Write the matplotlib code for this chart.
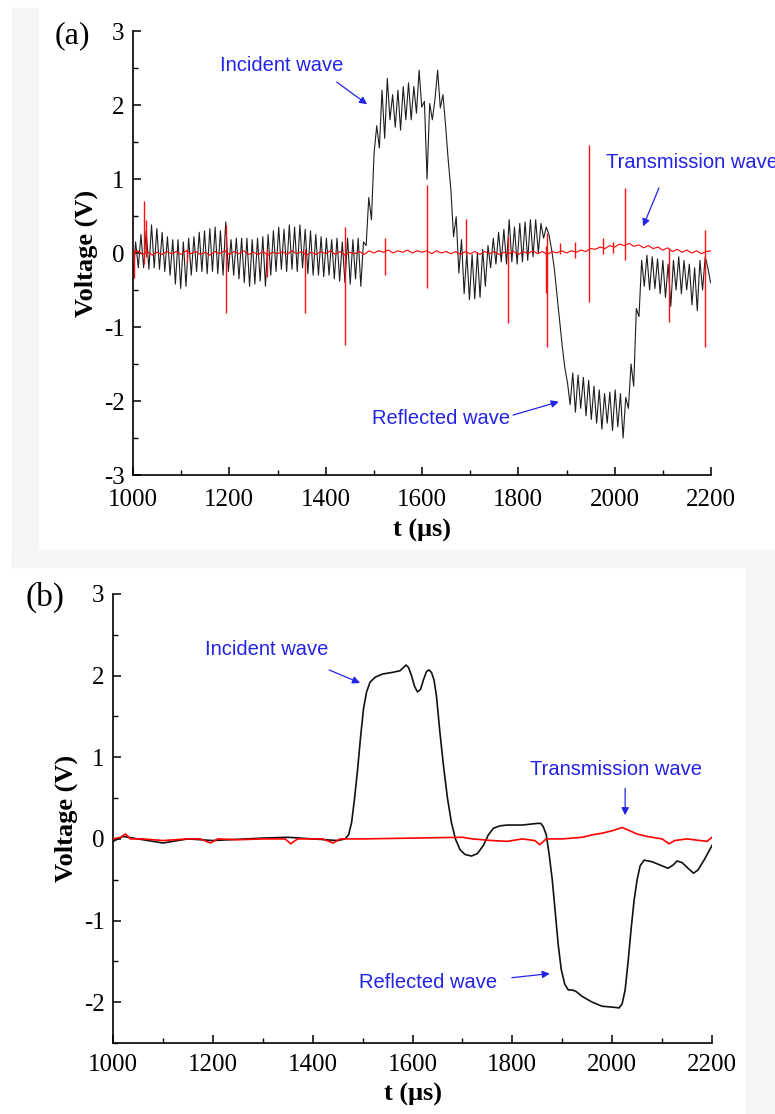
import numpy as np
import matplotlib
matplotlib.use('Agg')
import matplotlib.pyplot as plt
from matplotlib.patches import Rectangle
from matplotlib.ticker import MultipleLocator

# ---------------- panel (a): raw signals ----------------
# black trace, one value every 5.5 us starting at 1000 us
t0_a = 1000.0
dt_a = 5.5
black_a = [
    # 1000 - 1104.5
    -0.35, 0.15, -0.2, 0.25, -0.2, 0.3, -0.22, 0.38, -0.2, 0.33,
    -0.22, 0.28, -0.25, 0.22, -0.3, 0.18, -0.42, 0.18, -0.48, 0.15,
    # 1110 - 1214.5
    -0.45, 0.2, -0.3, 0.22, -0.25, 0.28, -0.25, 0.3, -0.28, 0.33,
    -0.25, 0.35, -0.28, 0.3, -0.3, 0.42, -0.25, 0.18, -0.3, 0.2,
    # 1220 - 1324.5
    -0.35, 0.2, -0.4, 0.2, -0.45, 0.18, -0.42, 0.2, -0.38, 0.22,
    -0.45, 0.25, -0.3, 0.3, -0.25, 0.35, -0.22, 0.32, -0.25, 0.38,
    # 1330 - 1434.5
    -0.22, 0.35, -0.25, 0.38, -0.2, 0.32, -0.28, 0.3, -0.3, 0.25,
    -0.3, 0.22, -0.32, 0.2, -0.3, 0.18, -0.35, 0.2, -0.38, 0.15,
    # 1440 - 1544.5
    -0.4, 0.2, -0.42, 0.18, -0.35, 0.2, -0.45, 0.15, 0.1, 0.75,
    0.45, 1.35, 1.72, 1.42, 2.2, 1.55, 2.36, 1.8, 2.14, 1.7,
    # 1550 - 1654.5
    2.2, 1.66, 2.25, 1.8, 2.3, 1.8, 2.25, 1.89, 2.47, 1.97,
    2.05, 1.0, 2.02, 1.8, 2.08, 2.47, 1.96, 2.14, 1.72, 1.25,
    # 1660 - 1764.5
    0.85, 0.22, 0.49, -0.27, 0.18, -0.55, 0.0, -0.63, -0.02, -0.62,
    0.0, -0.6, 0.05, -0.45, 0.1, -0.2, 0.2, -0.15, 0.28, -0.12,
    # 1770 - 1874.5
    0.32, -0.15, 0.45, -0.12, 0.35, -0.15, 0.4, -0.12, 0.42, -0.1,
    0.45, -0.05, 0.45, 0.0, 0.4, 0.2, 0.35, 0.25, 0.05, -0.2,
    # 1880 - 1984.5
    -0.55, -0.9, -1.25, -1.55, -1.75, -2.05, -1.62, -2.15, -1.65, -2.1,
    -1.68, -2.2, -1.72, -2.25, -1.8, -2.3, -1.85, -2.38, -1.9, -2.3,
    # 1990 - 2094.5
    -1.88, -2.4, -1.85, -2.35, -1.9, -2.5, -1.95, -2.1, -1.5, -1.8,
    -0.75, -0.86, -0.1, -0.45, -0.03, -0.5, -0.05, -0.48, -0.08, -0.55,
    # 2100 - 2199
    -0.1, -0.6, -0.15, -0.72, -0.1, -0.5, -0.05, -0.55, -0.1, -0.5,
    -0.15, -0.7, -0.2, -0.78, -0.1, -0.5, -0.05, -0.2, -0.4,
]

# red trace baseline, one value every 10 us
t0_red = 1000.0
dt_red = 10.0
red_base_a = [
    0.0, 0.03, -0.02, 0.02, -0.03, 0.01, -0.02, 0.02, -0.01, 0.02,
    -0.02, 0.03, -0.01, 0.02, -0.02, 0.01, -0.03, 0.02, -0.01, 0.03,
    -0.02, 0.02, -0.01, 0.03, -0.02, 0.01, -0.02, 0.02, -0.03, 0.01,
    -0.01, 0.02, -0.02, 0.03, -0.01, 0.02, -0.03, 0.01, -0.02, 0.02,
    -0.01, 0.03, -0.02, 0.02, -0.03, 0.01, -0.01, 0.02, -0.02, 0.03,
    0.0, 0.03, 0.01, 0.04, 0.0, 0.03, 0.01, 0.04, 0.0, 0.03,
    0.01, 0.03, -0.01, 0.03, 0.0, 0.02, -0.01, 0.02, -0.02, 0.02,
    -0.01, 0.02, -0.02, 0.02, -0.01, 0.02, -0.02, 0.01, -0.01, 0.02,
    -0.02, 0.02, -0.01, 0.03, -0.01, 0.02, -0.02, 0.02, 0.0, 0.03,
    0.0, 0.03, 0.01, 0.04, 0.02, 0.06, 0.05, 0.08, 0.06, 0.1,
    0.08, 0.12, 0.1, 0.13, 0.09, 0.11, 0.07, 0.1, 0.06, 0.08,
    0.04, 0.07, 0.02, 0.05, 0.01, 0.04, 0.0, 0.03, -0.01, 0.02,
    0.03,
]

# red spikes: time, top, bottom
spike_t = [1003, 1023, 1027, 1112, 1193, 1278, 1357, 1440, 1523, 1611, 1691,
           1779, 1857, 1860, 1886, 1917, 1947, 1976, 1996, 2021, 2113, 2188]
spike_hi = [0.05, 0.70, 0.45, 0.05, 0.38, 0.05, 0.05, 0.35, 0.20, 0.92, 0.46,
            0.22, 0.10, 0.27, 0.14, 0.15, 1.46, 0.20, 0.15, 0.88, 0.05, 0.31]
spike_lo = [-0.34, -0.15, -0.05, -0.12, -0.81, -0.32, -0.81, -1.24, -0.30, -0.47, -0.02,
            -0.95, -0.54, -1.27, -0.02, -0.07, -0.66, -0.02, 0.0, -0.10, -0.93, -1.27]

# ---------------- panel (b): filtered signals ----------------
t_black_b = [1000, 1020, 1050, 1100, 1150, 1200, 1300, 1350, 1400, 1450, 1465,
             1472, 1478, 1484, 1490, 1496, 1502, 1508, 1515, 1525, 1540,
             1560, 1575, 1582, 1587, 1592, 1598, 1604, 1610, 1616, 1622,
             1628, 1633, 1638, 1643, 1648, 1655, 1662, 1670, 1678, 1686,
             1695, 1705, 1718, 1730, 1742, 1752, 1762, 1775, 1790, 1820,
             1850, 1857, 1862, 1868, 1874, 1880, 1886, 1892, 1898, 1905,
             1912, 1920, 1928, 1940, 1960, 1980, 2000, 2014, 2020, 2026,
             2032, 2038, 2044, 2050, 2056, 2064, 2080, 2100, 2112, 2122,
             2130, 2140, 2152, 2163, 2172, 2185, 2200]
v_black_b = [-0.03, 0.03, 0.0, -0.05, 0.0, -0.02, 0.01, 0.02, 0.0, -0.02, 0.0,
             0.05, 0.2, 0.5, 0.85, 1.25, 1.6, 1.8, 1.92, 1.98, 2.02,
             2.04, 2.06, 2.1, 2.13, 2.1, 2.0, 1.87, 1.8, 1.83, 1.95,
             2.05, 2.07, 2.04, 1.95, 1.75, 1.3, 0.9, 0.5, 0.2, 0.0,
             -0.13, -0.19, -0.21, -0.18, -0.08, 0.05, 0.13, 0.16, 0.17, 0.17,
             0.19, 0.19, 0.15, 0.05, -0.2, -0.5, -0.9, -1.3, -1.6, -1.78,
             -1.85, -1.85, -1.87, -1.93, -2.0, -2.05, -2.06, -2.07, -2.02, -1.85,
             -1.5, -1.1, -0.75, -0.5, -0.33, -0.26, -0.28, -0.33, -0.36, -0.32,
             -0.27, -0.29, -0.36, -0.42, -0.38, -0.25, -0.08]

t_red_b = [1000, 1015, 1025, 1035, 1060, 1100, 1150, 1175, 1195, 1210, 1250,
           1300, 1345, 1356, 1370, 1420, 1441, 1455, 1500, 1600, 1700,
           1720, 1760, 1790, 1820, 1845, 1855, 1868, 1900, 1940, 1960,
           1980, 2000, 2020, 2035, 2050, 2070, 2100, 2114, 2125, 2150,
           2190, 2200]
v_red_b = [0.0, 0.02, 0.06, 0.0, 0.0, -0.02, 0.0, 0.0, -0.05, 0.0, -0.01,
           0.0, 0.0, -0.06, 0.0, 0.0, -0.05, 0.0, 0.0, 0.01, 0.02,
           0.0, -0.02, -0.03, 0.0, -0.02, -0.07, 0.0, 0.0, 0.02, 0.05,
           0.07, 0.1, 0.14, 0.1, 0.06, 0.03, 0.0, -0.06, -0.02, 0.0,
           -0.03, 0.02]

# annotations: text position, arrow tail, arrow head
notes_a = [
    ('Incident wave', (1181, 2.53), (1423, 2.31), (1486, 2.01)),
    ('Transmission wave', (1982, 1.22), (2092, 0.88), (2059, 0.36)),
    ('Reflected wave', (1496, -2.24), (1789, -2.19), (1884, -2.01)),
]
notes_b = [
    ('Incident wave', (1184, 2.32), (1433, 2.07), (1495, 1.91)),
    ('Transmission wave', (1835, 0.85), (2026, 0.62), (2026, 0.29)),
    ('Reflected wave', (1493, -1.76), (1799, -1.70), (1875, -1.65)),
]

serif = ['Liberation Serif', 'DejaVu Serif']
sans = ['Liberation Sans', 'DejaVu Sans']
blue = '#2323e6'
grey_bg = '#f6f6f4'
plt.rcParams['font.family'] = serif
plt.rcParams['axes.unicode_minus'] = False

W, H = 775, 1114


def fig_rect(fig, x0, y0, x1, y1, color):
    # rectangle given in pixels from the top-left corner
    fig.patches.append(Rectangle((x0 / W, 1 - y1 / H), (x1 - x0) / W, (y1 - y0) / H,
                                 transform=fig.transFigure, color=color, zorder=0))


def style_axes(ax, xpad, xlabelpad):
    ax.spines['top'].set_visible(False)
    ax.spines['right'].set_visible(False)
    for s in ('left', 'bottom'):
        ax.spines[s].set_linewidth(1.2)
    ax.set_xlim(1000, 2200)
    ax.xaxis.set_major_locator(MultipleLocator(200))
    ax.xaxis.set_minor_locator(MultipleLocator(100))
    ax.yaxis.set_major_locator(MultipleLocator(1))
    ax.yaxis.set_minor_locator(MultipleLocator(0.5))
    ax.tick_params(which='major', direction='in', length=6, width=1.1,
                   labelsize=18, pad=6)
    ax.tick_params(axis='x', which='major', pad=xpad)
    ax.tick_params(which='minor', direction='in', length=3.5, width=1.0)
    ax.set_xlabel('t (μs)', fontsize=19, fontweight='bold', labelpad=xlabelpad)
    ax.set_ylabel('Voltage (V)', fontsize=19, fontweight='bold', labelpad=4)
    ax.patch.set_alpha(0)


def add_notes(ax, notes):
    for label, txt, tail, head in notes:
        ax.text(txt[0], txt[1], label, color=blue, fontsize=14.5, family=sans,
                ha='left', va='center', clip_on=False)
        ax.annotate('', xy=head, xytext=tail,
                    arrowprops=dict(arrowstyle='-|>', color=blue, lw=0.9,
                                    mutation_scale=11, shrinkA=0, shrinkB=0))


fig = plt.figure(figsize=(W / 100, H / 100), dpi=100)
fig.patch.set_facecolor('white')
fig_rect(fig, 12, 8, 38, 567, grey_bg)
fig_rect(fig, 12, 550, 775, 567, grey_bg)
fig_rect(fig, 746, 550, 775, 1114, grey_bg)

# panel (a)
ax1 = fig.add_axes([133 / W, 1 - 475 / H, 578 / W, 444 / H])
t_a = t0_a + dt_a * np.arange(len(black_a))
t_red = t0_red + dt_red * np.arange(len(red_base_a))
ax1.plot(t_a, black_a, color='#1e1e1e', lw=0.8, zorder=2)
ax1.plot(t_red, red_base_a, color='red', lw=0.8, zorder=3)
ax1.vlines(spike_t, spike_lo, spike_hi, color='#ff1010', lw=1.0, zorder=3)
ax1.set_ylim(-3, 3)
style_axes(ax1, 10, 6)
add_notes(ax1, notes_a)
fig.text(72 / W, 1 - 36 / H, '(a)', fontsize=23, ha='center', va='center')

# panel (b)
ax2 = fig.add_axes([113 / W, 1 - 1043 / H, 599 / W, 449 / H])
ax2.plot(t_black_b, v_black_b, color='#111111', lw=1.2, zorder=2)
ax2.plot(t_red_b, v_red_b, color='red', lw=1.2, zorder=3)
ax2.set_ylim(-2.5, 3)
style_axes(ax2, 8, 5)
add_notes(ax2, notes_b)
fig.text(45 / W, 1 - 597 / H, '(b)', fontsize=24, ha='center', va='center')

fig.savefig('out.png', dpi=100)
